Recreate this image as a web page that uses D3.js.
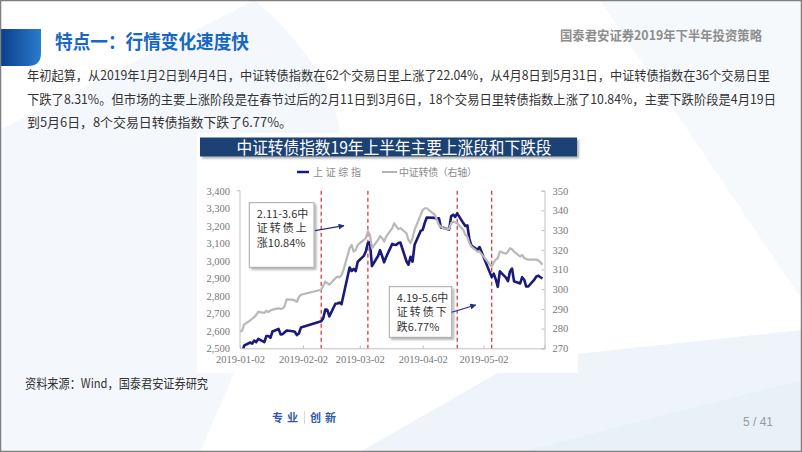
<!DOCTYPE html>
<html><head><meta charset="utf-8">
<script src="https://cdn.jsdelivr.net/npm/d3@7"></script>
<style>html,body{margin:0;padding:0;background:#fff;overflow:hidden}svg{display:block}</style>
</head><body>
<svg id="c" width="802" height="452"></svg>
<script>
// ---------- DATA ----------
const dates = ["2019-01-02","2019-01-03","2019-01-04","2019-01-07","2019-01-08","2019-01-09","2019-01-10","2019-01-11","2019-01-14","2019-01-15","2019-01-16","2019-01-17","2019-01-18","2019-01-21","2019-01-22","2019-01-23","2019-01-24","2019-01-25","2019-01-28","2019-01-29","2019-01-30","2019-01-31","2019-02-01",
"2019-02-11","2019-02-12","2019-02-13","2019-02-14","2019-02-15","2019-02-18","2019-02-19","2019-02-20","2019-02-21","2019-02-22","2019-02-25","2019-02-26","2019-02-27","2019-02-28",
"2019-03-01","2019-03-04","2019-03-05","2019-03-06","2019-03-07","2019-03-08","2019-03-11","2019-03-12","2019-03-13","2019-03-14","2019-03-15","2019-03-18","2019-03-19","2019-03-20","2019-03-21","2019-03-22","2019-03-25","2019-03-26","2019-03-27","2019-03-28","2019-03-29",
"2019-04-01","2019-04-02","2019-04-03","2019-04-04","2019-04-08","2019-04-09","2019-04-10","2019-04-11","2019-04-12","2019-04-15","2019-04-16","2019-04-17","2019-04-18","2019-04-19","2019-04-22","2019-04-23","2019-04-24","2019-04-25","2019-04-26","2019-04-29","2019-04-30",
"2019-05-06","2019-05-07","2019-05-08","2019-05-09","2019-05-10","2019-05-13","2019-05-14","2019-05-15","2019-05-16","2019-05-17","2019-05-20","2019-05-21","2019-05-22","2019-05-23","2019-05-24","2019-05-27","2019-05-28","2019-05-29","2019-05-30","2019-05-31"];

// 上证综指 (left axis)
const sseValues = [2465.3,2464.4,2514.9,2533.1,2526.5,2544.3,2535.1,2553.8,2535.8,2570.4,2570.3,2559.6,2596.0,2610.5,2579.7,2581.0,2591.7,2601.7,2597.0,2594.3,2575.6,2584.6,2618.2,
2653.9,2671.9,2721.1,2719.7,2682.4,2754.4,2755.7,2761.2,2751.8,2804.2,2961.3,2941.5,2953.8,2941.0,
2994.0,3027.6,3054.3,3102.1,3106.4,2969.9,3027.0,3060.3,3027.0,2990.7,3021.8,3096.4,3091.0,3090.6,3101.5,3104.2,2997.1,2977.3,3022.7,2994.9,3090.8,
3170.4,3176.8,3216.3,3246.6,3244.8,3239.7,3241.9,3190.0,3188.6,3177.8,3253.6,3263.1,3250.2,3270.8,3215.0,3198.6,3201.6,3123.8,3086.4,3062.5,3078.3,
2906.5,2926.4,2893.8,2851.0,2939.2,2903.7,2883.6,2938.7,2955.7,2882.3,2870.6,2906.0,2891.7,2852.5,2853.0,2892.4,2909.9,2914.7,2905.8,2898.7];

// 中证转债 (right axis)
const cbValues = [278.5,278.8,282.0,284.2,285.0,285.8,287.0,288.5,288.0,289.0,288.4,289.2,289.6,290.3,290.0,290.2,291.5,294.8,294.6,294.3,293.6,296.0,297.2,
299.7,301.7,303.9,303.1,302.3,305.6,306.4,306.0,307.2,309.8,320.8,322.5,319.1,319.9,
322.5,325.0,326.0,329.4,327.6,320.8,325.0,327.0,325.9,324.2,326.7,331.0,333.5,331.8,330.5,331.0,328.4,325.0,323.4,325.9,330.1,
337.7,340.2,341.1,341.1,337.7,335.2,332.6,331.8,331.0,330.5,333.5,334.3,334.0,333.5,330.1,327.6,326.7,323.4,321.6,319.1,319.1,
311.4,313.6,315.0,315.8,319.1,318.0,319.1,320.8,320.3,319.1,316.6,317.4,315.8,315.3,315.0,315.0,315.0,314.6,313.6,312.4];

const leftTicks = [2500,2600,2700,2800,2900,3000,3100,3200,3300,3400];
const rightTicks = [270,280,290,300,310,320,330,340,350];
const xTickLabels = ["2019-01-02","2019-02-02","2019-03-02","2019-04-02","2019-05-02"];
const markerDates = ["2019-02-11","2019-03-06","2019-04-19","2019-05-06"];
const seriesNames = ["上证综指","中证转债（右轴）"];
const chartTitle = "中证转债指数19年上半年主要上涨段和下跌段";
const note1 = ["2.11-3.6中","证转债上","涨10.84%"];
const note2 = ["4.19-5.6中","证转债下","跌6.77%"];
const bodyLines = [
 "年初起算，从2019年1月2日到4月4日，中证转债指数在62个交易日里上涨了22.04%，从4月8日到5月31日，中证转债指数在36个交易日里",
 "下跌了8.31%。但市场的主要上涨阶段是在春节过后的2月11日到3月6日，18个交易日里转债指数上涨了10.84%，主要下跌阶段是4月19日",
 "到5月6日，8个交易日转债指数下跌了6.77%。"];

// ---------- DRAW ----------
const svg = d3.select("#c");
const parse = d3.timeParse("%Y-%m-%d");
const CJK = "'Noto Sans CJK SC','Microsoft YaHei',sans-serif";
const SERIF = "'Liberation Serif','Times New Roman',serif";

const defs = svg.append("defs");
const tg = defs.append("linearGradient").attr("id","tabg").attr("x1","0").attr("x2","1");
tg.append("stop").attr("offset","0").attr("stop-color","#0b3d8c");
tg.append("stop").attr("offset","1").attr("stop-color","#2a7ccc");
const f = defs.append("filter").attr("id","sh").attr("x","-10%").attr("y","-10%").attr("width","130%").attr("height","130%");
f.append("feDropShadow").attr("dx",2).attr("dy",2).attr("stdDeviation",1.2).attr("flood-color","#000").attr("flood-opacity",0.3);

// background decorations
svg.append("rect").attr("width",802).attr("height",452).attr("fill","#fff");
svg.append("path").attr("d","M255,0 C300,40 330,80 340,130 L200,452 L0,452 L0,130 Z").attr("fill","#f4f8fc");
svg.append("path").attr("d","M360,452 L520,360 L802,330 L802,452 Z").attr("fill","#eef4fa");
svg.append("path").attr("d","M520,452 L802,380 L802,452 Z").attr("fill","#e8f0f8");
svg.append("path").attr("d","M600,0 L802,0 L802,300 Z").attr("fill","#f6f9fc");

// header
svg.append("path").attr("d","M0,29 L41,29 L41,53 Q41,66 28,66 L0,66 Z").attr("fill","url(#tabg)");
svg.append("text").attr("x",55).attr("y",49).attr("font-family",CJK).attr("font-weight","bold")
  .attr("font-size",19).attr("fill","#1767c4").attr("textLength",194).attr("lengthAdjust","spacingAndGlyphs")
  .text("特点一：行情变化速度快");
svg.append("text").attr("x",560).attr("y",40).attr("font-family",CJK).attr("font-weight","bold")
  .attr("font-size",13).attr("fill","#8e8e8e").attr("textLength",202).attr("lengthAdjust","spacingAndGlyphs")
  .text("国泰君安证券2019年下半年投资策略");

// body text
const bodyW = [743, 749, 265];
bodyLines.forEach((t,i)=>{
  svg.append("text").attr("x",27).attr("y",80+i*23.5).attr("font-family",CJK).attr("font-size",12.6)
    .attr("fill","#333").attr("textLength",bodyW[i]).attr("lengthAdjust","spacingAndGlyphs").text(t);
});

// chart panel
svg.append("rect").attr("x",197).attr("y",133).attr("width",381).attr("height",240).attr("fill","#fff");
svg.append("rect").attr("x",200).attr("y",137.5).attr("width",377).attr("height",19).attr("fill","#1f4374").attr("filter","url(#sh)");
svg.append("text").attr("x",394).attr("y",153.5).attr("text-anchor","middle").attr("font-family",CJK)
  .attr("font-size",17).attr("fill","#fff").attr("textLength",315).attr("lengthAdjust","spacingAndGlyphs").text(chartTitle);

// legend
const lg = svg.append("g");
lg.append("line").attr("x1",297).attr("x2",309).attr("y1",172).attr("y2",172).attr("stroke","#1a1a78").attr("stroke-width",2.5);
lg.append("text").attr("x",313).attr("y",175.5).attr("font-family",CJK).attr("font-size",10).attr("fill","#8a8a8a")
  .attr("textLength",48).attr("lengthAdjust","spacing").text(seriesNames[0]);
lg.append("line").attr("x1",382).attr("x2",397).attr("y1",172).attr("y2",172).attr("stroke","#b4b4b4").attr("stroke-width",2);
lg.append("text").attr("x",399).attr("y",175.5).attr("font-family",CJK).attr("font-size",10).attr("fill","#8a8a8a")
  .attr("textLength",78).attr("lengthAdjust","spacing").text(seriesNames[1]);

// scales
const x = d3.scaleTime().domain([parse("2019-01-02"), parse("2019-06-01")]).range([240, 544.5]);
const yL = d3.scaleLinear().domain([2500,3400]).range([348.3,190.7]);
const yR = d3.scaleLinear().domain([270,350]).range([348.3,190.7]);

// axes
const axG = svg.append("g").attr("font-family",SERIF);
const leftAxis = d3.axisLeft(yL).tickValues(leftTicks).tickSize(0).tickPadding(10).tickFormat(d3.format(","));
const gl = axG.append("g").attr("transform","translate(240,0)").call(leftAxis);
const rightAxis = d3.axisRight(yR).tickValues(rightTicks).tickSize(-3).tickPadding(8).tickFormat(d3.format("d"));
const gr = axG.append("g").attr("transform","translate(544.5,0)").call(rightAxis);
const bottomAxis = d3.axisBottom(x).tickValues(xTickLabels.map(parse)).tickSize(-3).tickPadding(7).tickFormat(d3.timeFormat("%Y-%m-%d"));
const gb = axG.append("g").attr("transform","translate(0,348.3)").call(bottomAxis);
[gl,gr,gb].forEach(g=>{
  g.select(".domain").attr("stroke","#bfbfbf");
  g.selectAll(".tick line").attr("stroke","#bfbfbf");
  g.selectAll("text").attr("fill","#777").attr("font-size",10.5).attr("font-family",SERIF);
});
gl.select(".domain").attr("d","M-3,190.7H0V348.3");

// marker lines
svg.append("g").selectAll("line").data(markerDates).join("line")
  .attr("x1",d=>x(parse(d))).attr("x2",d=>x(parse(d))).attr("y1",190.7).attr("y2",348.3)
  .attr("stroke","#e02828").attr("stroke-width",1.2).attr("stroke-dasharray","4,3");

// lines
defs.append("clipPath").attr("id","plot").append("rect").attr("x",240).attr("y",185).attr("width",306).attr("height",163.3);
const pts = dates.map((d,i)=>({d:parse(d), s:sseValues[i], c:cbValues[i]}));
const plot = svg.append("g").attr("clip-path","url(#plot)");
plot.append("path").datum(pts).attr("fill","none").attr("stroke","#1a1a78").attr("stroke-width",2.6)
  .attr("stroke-linejoin","round").attr("d",d3.line().x(p=>x(p.d)).y(p=>yL(p.s)));
plot.append("path").datum(pts).attr("fill","none").attr("stroke","#b8b8b8").attr("stroke-width",2.2)
  .attr("stroke-linejoin","round").attr("d",d3.line().x(p=>x(p.d)).y(p=>yR(p.c)));

// annotation boxes
const mk = defs.append("marker").attr("id","arr").attr("viewBox","0 0 10 10").attr("refX",9).attr("refY",5)
  .attr("markerWidth",5).attr("markerHeight",5).attr("orient","auto");
mk.append("path").attr("d","M0,0 L10,5 L0,10 Z").attr("fill","#1f2f80");
function note(bx,by,bw,bh,lines,ax1,ay1,ax2,ay2){
  const g = svg.append("g");
  g.append("rect").attr("x",bx).attr("y",by).attr("width",bw).attr("height",bh).attr("fill","#fff")
    .attr("stroke","#a8a8a8").attr("stroke-width",1).attr("filter","url(#sh)");
  lines.forEach((t,i)=>{
    g.append("text").attr("x",bx+7.5).attr("y",by+15+i*14.5).attr("font-family",CJK).attr("font-size",11)
      .attr("fill","#333").attr("letter-spacing",i==1?2:0).text(t);
  });
  g.append("line").attr("x1",ax1).attr("y1",ay1).attr("x2",ax2).attr("y2",ay2).attr("stroke","#1f2f80")
    .attr("stroke-width",1.2).attr("marker-end","url(#arr)");
}
note(249.3,202.7,64.7,64.6,note1,315,230.7,344,225.7);
note(389.3,286.7,62.4,50.6,note2,451.7,312.3,475.7,305);

// footer
svg.append("text").attr("x",25).attr("y",388).attr("font-family",CJK).attr("font-size",13).attr("fill","#333")
  .attr("textLength",183).attr("lengthAdjust","spacingAndGlyphs").text("资料来源：Wind，国泰君安证券研究");
const ft = svg.append("g").attr("font-family",CJK).attr("font-size",11).attr("font-weight","bold").attr("fill","#2d5aa6");
ft.append("text").attr("x",272).attr("y",422).attr("letter-spacing",4).text("专业");
ft.append("line").attr("x1",304.5).attr("x2",304.5).attr("y1",411).attr("y2",424).attr("stroke","#d8d8d8");
ft.append("text").attr("x",310).attr("y",422).attr("letter-spacing",4).text("创新");
svg.append("text").attr("x",773).attr("y",426).attr("text-anchor","end").attr("font-family","'Liberation Sans',Arial,sans-serif")
  .attr("font-size",12).attr("fill","#9a9a9a").text("5 / 41");

// frame
svg.append("rect").attr("x",0.5).attr("y",0.5).attr("width",801).attr("height",451).attr("fill","none").attr("stroke","#7f7f7f").attr("stroke-width",1.5);
</script>
</body></html>
